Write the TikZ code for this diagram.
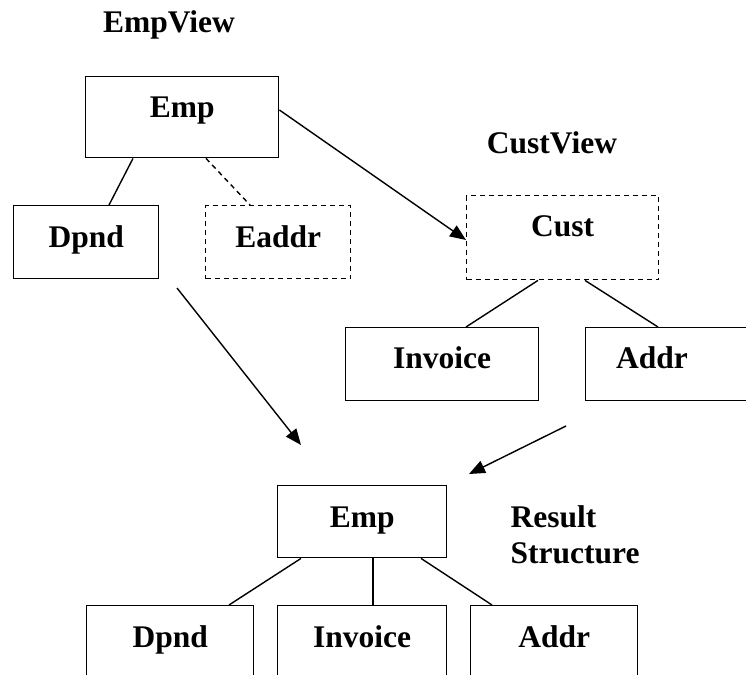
\documentclass[tikz,border=0pt]{standalone}
\usepackage{fontspec}
\setmainfont{Liberation Serif}
\usetikzlibrary{arrows.meta}
\begin{document}
\begin{tikzpicture}[x=1bp,y=-1bp,line width=1.4bp,
  box/.style={draw,rectangle,inner sep=0pt,anchor=north west},
  dbox/.style={box,dash pattern=on 5bp off 4bp},
  txt/.style={font=\fontsize{31.5bp}{36bp}\selectfont\bfseries,anchor=base,inner sep=0pt},
  arr/.style={-{Triangle[length=16bp,width=13bp]}}]
\useasboundingbox (0,0) rectangle (746,675);
\clip (0,0) rectangle (746,675);
% EmpView
\node[txt] (empview) at (169,33) {EmpView};
\node[box,minimum width=193bp,minimum height=81bp] (emp) at (85,76) {};
\node[box,minimum width=145bp,minimum height=73bp] (dpnd) at (13,205) {};
\node[dbox,minimum width=145bp,minimum height=73bp] (eaddr) at (205,205) {};
\node[txt] at ([yshift=-41bp]emp.north) {Emp};
\node[txt] at ([yshift=-42bp]dpnd.north) {Dpnd};
\node[txt] at ([yshift=-42bp]eaddr.north) {Eaddr};
\draw ([xshift=48bp]emp.south west) -- ([xshift=96bp]dpnd.north west);
\draw[dash pattern=on 5bp off 4bp] ([xshift=121bp]emp.south west) -- ([xshift=45bp]eaddr.north west);
% CustView
\node[txt] (custview) at (552,153) {CustView};
\node[dbox,minimum width=192bp,minimum height=84bp] (cust) at (466,195) {};
\node[box,minimum width=193bp,minimum height=73bp] (inv) at (345,327) {};
\node[box,minimum width=280bp,minimum height=73bp] (addr) at (585,327) {};
\node[txt] at ([yshift=-41bp]cust.north) {Cust};
\node[txt] at ([yshift=-41bp]inv.north) {Invoice};
\node[txt] at (652,368) {Addr};
\draw ([xshift=72bp]cust.south west) -- ([xshift=121bp]inv.north west);
\draw ([xshift=119bp]cust.south west) -- ([xshift=73bp]addr.north west);
\draw[arr] ([yshift=-34bp]emp.north east) -- ([yshift=-45bp]cust.north west);
% arrows to result
\coordinate (a1s) at (177,288);
\coordinate (a1e) at (301,445);
\coordinate (a2s) at (566,426);
\coordinate (a2e) at (469,474);
\draw[arr] (a1s) -- (a1e);
\draw[arr] (a2s) -- (a2e);
% Result
\node[box,minimum width=169bp,minimum height=72bp] (remp) at (277,485) {};
\node[txt] at ([yshift=-42bp]remp.north) {Emp};
\node[txt,anchor=base west,align=left] (res) at (510,563) {Result\\Structure};
\node[box,minimum width=167bp,minimum height=90bp] (bdpnd) at (86,605) {};
\node[box,minimum width=169bp,minimum height=90bp] (binv) at (277,605) {};
\node[box,minimum width=167bp,minimum height=90bp] (baddr) at (470,605) {};
\node[txt] at ([yshift=-42bp]bdpnd.north) {Dpnd};
\node[txt] at ([yshift=-42bp]binv.north) {Invoice};
\node[txt] at ([yshift=-42bp]baddr.north) {Addr};
\draw ([xshift=24bp]remp.south west) -- ([xshift=143bp]bdpnd.north west);
\draw ([xshift=96bp]remp.south west) -- ([xshift=96bp]binv.north west);
\draw ([xshift=144bp]remp.south west) -- ([xshift=22bp]baddr.north west);
\end{tikzpicture}
\end{document}
